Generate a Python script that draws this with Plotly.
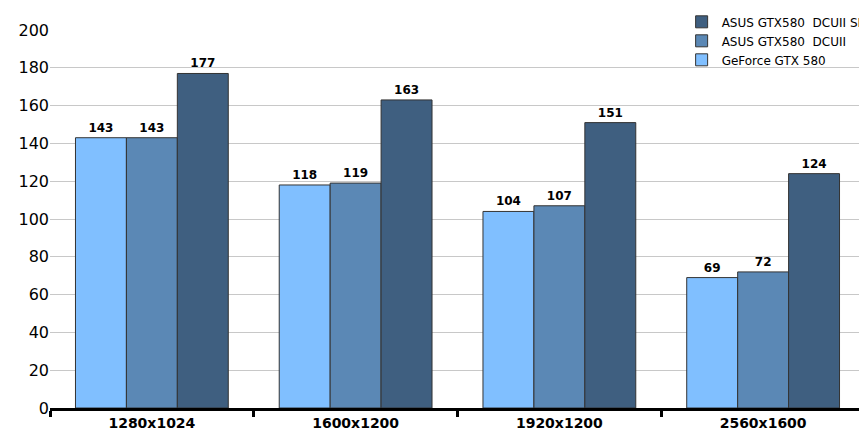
import plotly.graph_objects as go

categories = ["1280x1024", "1600x1200", "1920x1200", "2560x1600"]
gtx580 = [143, 118, 104, 69]
dcuii = [143, 119, 107, 72]
dcuii_sli = [177, 163, 151, 124]
y_ticks = list(range(0, 201, 20))

series = [("GeForce GTX 580", gtx580, "#80BFFF"),
          ("ASUS GTX580  DCUII", dcuii, "#5B88B5"),
          ("ASUS GTX580  DCUII SLI", dcuii_sli, "#3F5F80")]

fig = go.Figure()
for name, vals, col in series:
    fig.add_trace(go.Bar(
        x=categories, y=vals, name=name, marker_color=col,
        marker_line=dict(color="#333333", width=1),
        text=[str(v) for v in vals], textposition="outside",
        textfont=dict(family="DejaVu Sans", size=12, color="black", weight="bold"),
        cliponaxis=False))

fig.update_layout(
    width=867, height=431, barmode="group", bargap=0.25, bargroupgap=0,
    plot_bgcolor="white", paper_bgcolor="white",
    margin=dict(l=42, r=10, t=22, b=31, autoexpand=False),
    font=dict(family="DejaVu Sans", size=15, color="black"),
    legend=dict(x=0.775, y=1.06, xanchor="left", yanchor="top", traceorder="reversed",
                font=dict(family="DejaVu Sans", size=12), bgcolor="rgba(255,255,255,0)",
                tracegroupgap=0),
    showlegend=True,
)
fig.update_xaxes(showline=True, linecolor="black", linewidth=3, ticks="outside",
                 tickwidth=3, ticklen=6, tickcolor="black",
                 tickson="boundaries", automargin=False,
                 tickfont=dict(family="DejaVu Sans", size=14, weight="bold"))
fig.update_yaxes(range=[0, 200], tickvals=y_ticks, showgrid=True, gridcolor="#C8C8C8",
                 zeroline=False, automargin=False, tickfont=dict(family="DejaVu Sans", size=16))
fig.write_html("out.html")
